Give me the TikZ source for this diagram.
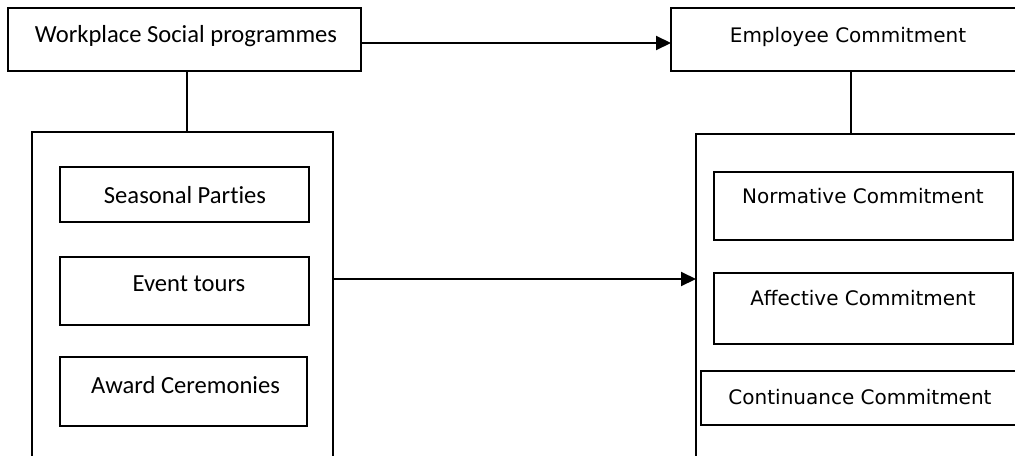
\documentclass[tikz,border=0pt]{standalone}
\usepackage{fontspec}
\setmainfont[Ligatures={NoCommon}]{Carlito}
\newfontfamily\verdfont{DejaVu Sans}
\usetikzlibrary{arrows.meta,calc}
\tikzstyle{boite}=[draw, line width=1pt, rectangle, inner sep=0, outer sep=0, anchor=north west]
\tikzstyle{texte}=[anchor=base, inner sep=0, font=\fontsize{12.3}{14}\selectfont]
\tikzstyle{texteb}=[anchor=base, inner sep=0, font=\verdfont\fontsize{10}{12}\selectfont]
\tikzstyle{trait}=[line width=1pt]
\tikzstyle{fleche}=[line width=1pt, -{Triangle[length=7.5pt,width=7pt]}]
% #1 name, (#2,#3) top left corner, #4 x #5 size, in pixels
\newcommand{\boite}[5]{
\node[boite, minimum width=#4*0.5pt, minimum height=#5*0.5pt] (#1) at (#2,#3) {};
}

\begin{document}
\begin{tikzpicture}[x=0.5pt,y=-0.5pt]
\useasboundingbox (0,0) rectangle (1015,455);
\clip (0,0) rectangle (1015,455);

%gauche
\boite{wsp}{8}{8}{353}{63}
\boite{cgauche}{32}{132}{301}{360}
\boite{seas}{60}{167}{249}{55}
\boite{event}{60}{257}{249}{68}
\boite{award}{60}{357}{247}{69}

\node[texte] (twsp) at (186,42) {Workplace Social programmes};
\node[texte] (tseas) at (185,203) {Seasonal Parties};
\node[texte] (tevent) at (189,291) {Event tours};
\node[texte] (taward) at (185.5,393) {Award Ceremonies};

%droite
\boite{emp}{671}{8}{380}{63}
\boite{cdroite}{696}{134}{360}{360}
\boite{norm}{714}{172}{299}{68}
\boite{aff}{714}{273}{299}{71}
\boite{cont}{701}{371}{340}{54}

\node[texteb] (temp) at (848,42) {Employee Commitment};
\node[texteb] (tnorm) at (863,203) {Normative Commitment};
\node[texteb] (taff) at (863,305) {Affective Commitment};
\node[texteb] (tcont) at (860,404) {Continuance Commitment};

%liens
\draw[fleche] ([yshift=-1.75pt]wsp.east) -- ([yshift=-1.75pt]emp.west);
\draw[trait] ([xshift=1.25pt]wsp.south) -- ([xshift=1.25pt]wsp.south |- cgauche.north);
\draw[trait] ($(emp.south west)+(180,0)$) -- ($(cdroite.north west)+(155,0)$);
\draw[fleche] ($(cgauche.north east)+(0,147)$) -- ($(cdroite.north west)+(0,145)$);
\end{tikzpicture}
\end{document}
